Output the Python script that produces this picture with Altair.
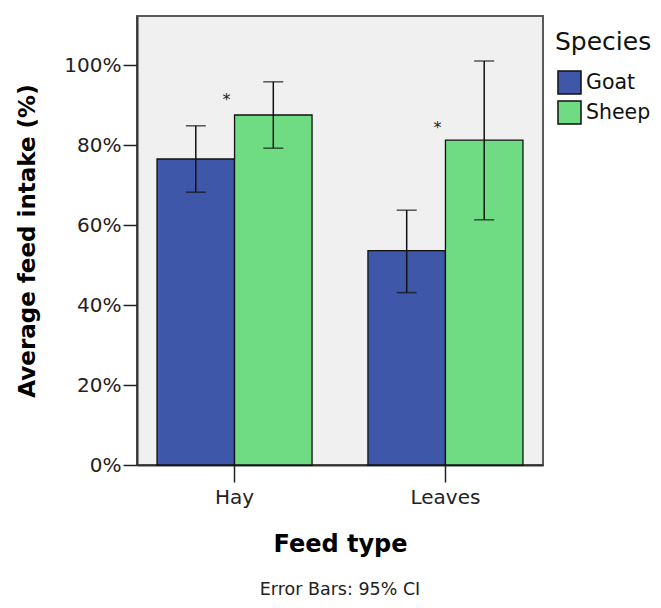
import altair as alt
import pandas as pd

feed = ["Hay", "Hay", "Leaves", "Leaves"]
species = ["Goat", "Sheep", "Goat", "Sheep"]
mean = [76.5, 87.5, 53.6, 81.2]
ci_low = [68.2, 79.2, 43.1, 61.3]
ci_high = [84.8, 95.8, 63.7, 101.0]

sig_feed = ["Hay", "Leaves"]
sig_y = [89.9, 82.9]
sig_label = ["*", "*"]

df = pd.DataFrame({"Feed": feed, "Species": species, "Mean": mean,
                   "Lo": ci_low, "Hi": ci_high})
sig = pd.DataFrame({"Feed": sig_feed, "Y": sig_y, "Label": sig_label})

FONT = "DejaVu Sans"
colors = ["#3E57A8", "#6FDC83"]

xenc = alt.X("Feed:N", sort=["Hay", "Leaves"],
             scale=alt.Scale(paddingInner=0.265, paddingOuter=0.095),
             axis=alt.Axis(title="Feed type", labelAngle=0, labelFontSize=20,
                           labelColor="#222", labelFont=FONT, titleFont=FONT,
                           titleFontSize=24, titleFontWeight="bold",
                           titleColor="#000", titlePadding=25,
                           tickSize=17, tickColor="#222", tickWidth=1.5,
                           labelPadding=5, domainColor="#333", domainWidth=2))
xoff = alt.XOffset("Species:N", sort=["Goat", "Sheep"],
                   scale=alt.Scale(paddingInner=0, paddingOuter=0))
yscale = alt.Scale(domain=[0, 112.25], nice=False)
yaxis = alt.Axis(title="Average feed intake (%)", values=[0, 20, 40, 60, 80, 100],
                 labelExpr="datum.value + '%'", grid=False, labelFontSize=20,
                 labelColor="#222", labelFont=FONT, titleFont=FONT,
                 titleFontSize=23, titleFontWeight="bold", titleColor="#000",
                 titlePadding=24, tickSize=14, tickColor="#222", tickWidth=1.5,
                 labelPadding=2, domainColor="#333", domainWidth=2)

base = alt.Chart(df)

bars = base.mark_bar(stroke="#111", strokeWidth=1.3).encode(
    x=xenc, xOffset=xoff,
    y=alt.Y("Mean:Q", scale=yscale, axis=yaxis),
    color=alt.Color("Species:N", sort=["Goat", "Sheep"],
                    scale=alt.Scale(domain=["Goat", "Sheep"], range=colors),
                    legend=alt.Legend(title="Species", orient="none",
                                      legendX=418, legendY=14,
                                      titleFontSize=25, titleFont=FONT,
                                      titleFontWeight="normal", titleColor="#111",
                                      labelFontSize=20.5, labelFont=FONT,
                                      labelColor="#111", symbolType="square",
                                      symbolSize=530, symbolStrokeColor="#111",
                                      symbolStrokeWidth=1.5, symbolOpacity=1,
                                      symbolOffset=2,
                                      labelOffset=4, rowPadding=-1,
                                      titlePadding=15, padding=0)),
)

rules = base.mark_rule(color="#111", strokeWidth=1.5).encode(
    x=xenc, xOffset=xoff,
    y=alt.Y("Lo:Q", scale=yscale), y2="Hi:Q")

caps_lo = base.mark_tick(color="#111", thickness=1.5, size=20).encode(
    x=xenc, xOffset=xoff, y=alt.Y("Lo:Q", scale=yscale))
caps_hi = base.mark_tick(color="#111", thickness=1.5, size=20).encode(
    x=xenc, xOffset=xoff, y=alt.Y("Hi:Q", scale=yscale))

stars = alt.Chart(sig).mark_text(font=FONT, fontSize=16, color="#222",
                                 baseline="alphabetic", dx=-8).encode(
    x=alt.X("Feed:N", sort=["Hay", "Leaves"]),
    y=alt.Y("Y:Q", scale=yscale), text="Label:N")

chart = alt.layer(bars, rules, caps_lo, caps_hi, stars).properties(
    width=406, height=449,
    title=alt.TitleParams("Error Bars: 95% CI", orient="bottom", anchor="middle",
                          font=FONT, fontSize=17.5, fontWeight="normal",
                          color="#222", offset=25),
    padding={"left": 129, "top": 8, "right": 110, "bottom": 135},
    autosize="none",
).configure(background="white"
).configure_view(fill="#F0F0F0", stroke="#5A5A5A", strokeWidth=2)

chart.save("out.html", embed_options={"renderer": "svg", "actions": False})
